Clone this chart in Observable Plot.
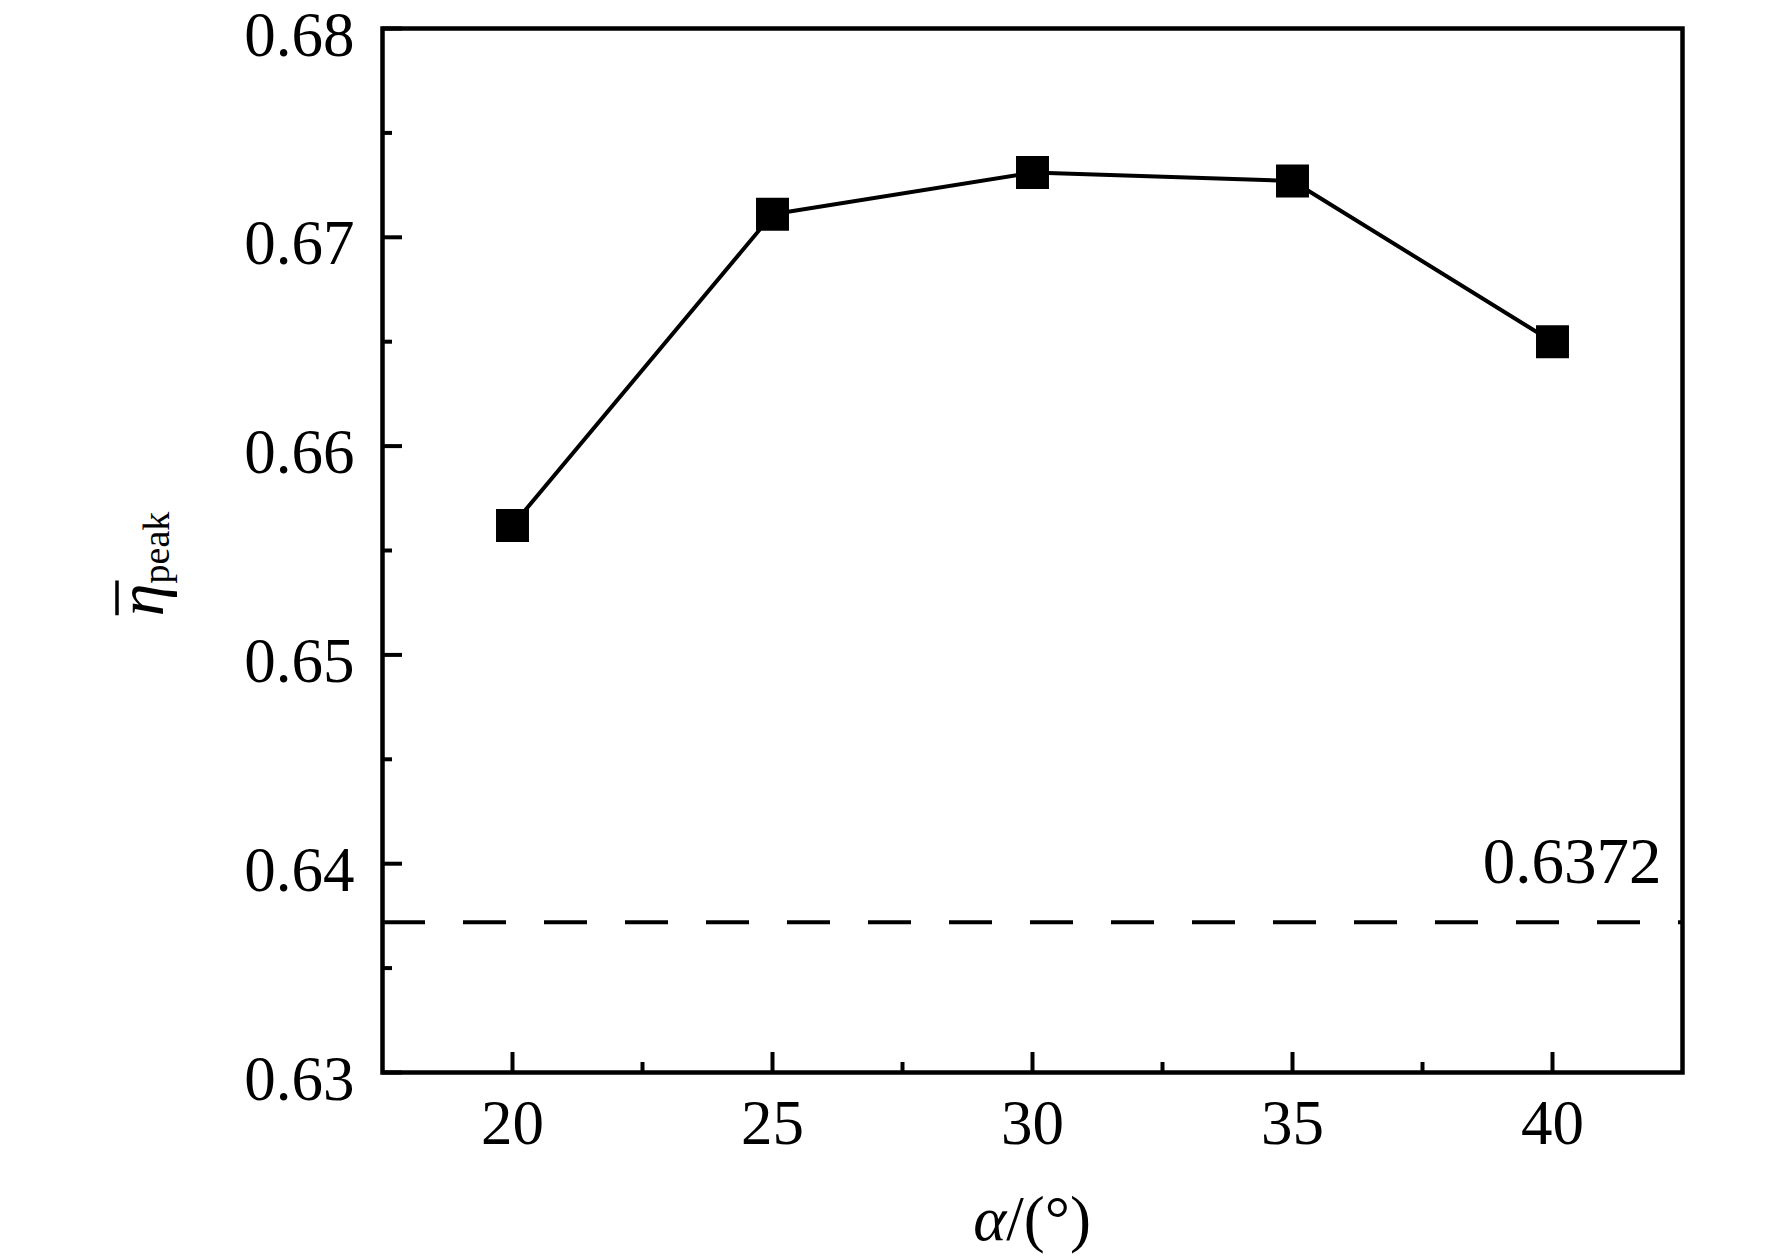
<!DOCTYPE html>
<html><head><meta charset="utf-8">
<script src="https://cdn.jsdelivr.net/npm/d3@7"></script>
<script src="https://cdn.jsdelivr.net/npm/@observablehq/plot@0.6"></script>
<style>body{margin:0;background:#fff} svg{display:block}</style>
</head><body><div id="chart"></div>
<script>
const alpha = [20, 25, 30, 35, 40];
const etaPeak = [0.6562, 0.6711, 0.6731, 0.6727, 0.6650];
const refValue = [0.6372];
const refLabel = ["0.6372"];
const xMajor = [20, 25, 30, 35, 40];
const xMinor = [22.5, 27.5, 32.5, 37.5];
const xTickLabels = ["20", "25", "30", "35", "40"];
const yMajor = [0.63, 0.64, 0.65, 0.66, 0.67, 0.68];
const yMinor = [0.635, 0.645, 0.655, 0.665, 0.675];
const yTickLabels = ["0.63", "0.64", "0.65", "0.66", "0.67", "0.68"];
const xDomain = [17.5, 42.5];
const yDomain = [0.63, 0.68];
const xTitle = ["α", "/(°)"];
const yTitle = ["η", "peak"];

const W = 1772, H = 1260, mL = 382, mR = 90, mT = 28, mB = 188;
const pw = W - mL - mR, ph = H - mT - mB;
const data = alpha.map((a, i) => ({a, v: etaPeak[i]}));
const font = "'Liberation Serif','Times New Roman',serif";

const chart = Plot.plot({
  width: W, height: H,
  marginLeft: mL, marginRight: mR, marginTop: mT, marginBottom: mB,
  style: {fontFamily: font, background: "#fff", color: "#000"},
  x: {domain: xDomain},
  y: {domain: yDomain},
  marks: [
    Plot.ruleY(refValue, {stroke: "#000", strokeWidth: 4, strokeDasharray: "43,38"}),
    Plot.ruleX(xMajor, {stroke: "#000", strokeWidth: 4, insetTop: ph - 20}),
    Plot.ruleX(xMinor, {stroke: "#000", strokeWidth: 4, insetTop: ph - 10}),
    Plot.ruleY(yMajor, {stroke: "#000", strokeWidth: 4, insetRight: pw - 20}),
    Plot.ruleY(yMinor, {stroke: "#000", strokeWidth: 4, insetRight: pw - 10}),
    Plot.axisX(xMajor, {tickSize: 0, tickPadding: 27, fontSize: 63, fill: "#000",
      tickFormat: d => xTickLabels[xMajor.indexOf(d)], label: null}),
    Plot.axisY(yMajor, {tickSize: 0, tickPadding: 28, fontSize: 63, fill: "#000", dy: 7,
      tickFormat: d => yTickLabels[yMajor.indexOf(d)], label: null}),
    Plot.line(data, {x: "a", y: "v", stroke: "#000", strokeWidth: 4}),
    Plot.dot(data, {x: "a", y: "v", symbol: "square", r: 18.6, fill: "#000", stroke: "none"}),
    Plot.text(refLabel, {y: (d, i) => refValue[i], text: d => d, frameAnchor: "right",
      textAnchor: "end", dx: -21, dy: -60, fontSize: 65, fill: "#000"}),
    Plot.frame({stroke: "#000", strokeWidth: 4.5})
  ]
});

document.getElementById("chart").appendChild(chart);

const svg = d3.select(chart);
// x-axis title
const xt = svg.append("text")
  .attr("x", mL + pw / 2).attr("y", H - 20)
  .attr("text-anchor", "middle")
  .style("font-family", font).style("font-size", "63px").attr("fill", "#000");
xt.append("tspan").style("font-style", "italic").text(xTitle[0]);
xt.append("tspan").text(xTitle[1]);
// y-axis title (rotated), with an overbar accent on eta
const yg = svg.append("g")
  .attr("transform", `translate(163,${mT + ph / 2 + 14}) rotate(-90)`);
const yt = yg.append("text")
  .attr("text-anchor", "middle")
  .style("font-family", font).attr("fill", "#000");
yt.append("tspan").style("font-style", "italic").style("font-size", "66px").text(yTitle[0]);
yt.append("tspan").style("font-size", "38px").attr("dy", 6).text(yTitle[1]);
const tn = yt.node();
const s = tn.getStartPositionOfChar(0), e = tn.getEndPositionOfChar(0);
yg.append("line")
  .attr("x1", s.x + 1).attr("x2", e.x + 3)
  .attr("y1", s.y - 46).attr("y2", s.y - 46)
  .attr("stroke", "#000").attr("stroke-width", 3.5);
</script>
</body></html>
